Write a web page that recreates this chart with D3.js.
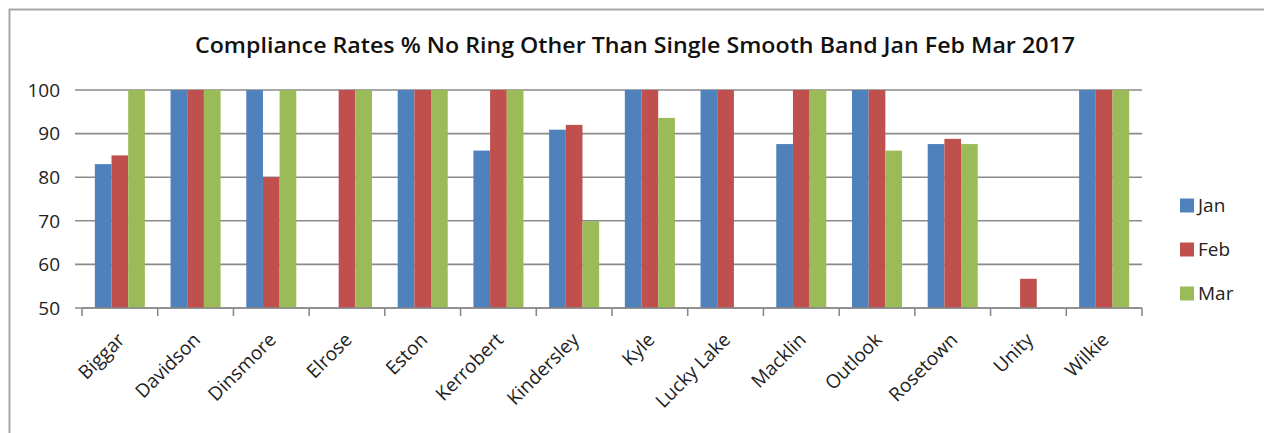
<!DOCTYPE html>
<html><head><meta charset="utf-8">
<script src="https://cdn.jsdelivr.net/npm/d3@7"></script>
<style>body{margin:0;background:#fff}svg{display:block}</style>
</head><body>
<svg id="c" width="1264" height="433"></svg>
<script>
const categories = ["Biggar","Davidson","Dinsmore","Elrose","Eston","Kerrobert","Kindersley","Kyle","Lucky Lake","Macklin","Outlook","Rosetown","Unity","Wilkie"];
const seriesNames = ["Jan","Feb","Mar"];
const jan = [83, 100, 100, null, 100, 86.1, 90.9, 100, 100, 87.6, 100, 87.6, null, 100];
const feb = [85, 100, 80, 100, 100, 100, 92, 100, 100, 100, 100, 88.8, 56.7, 100];
const mar = [100, 100, 100, 100, 100, 100, 69.9, 93.6, null, 100, 86.1, 87.6, null, 100];
const yTicks = [50, 60, 70, 80, 90, 100];
const colors = ["#4F81BD", "#C0504D", "#9BBB59"];
const title = "Compliance Rates % No Ring Other Than Single Smooth Band Jan Feb Mar 2017";

const series = [jan, feb, mar];
const svg = d3.select("#c");
const font = "'Open Sans', 'Noto Sans', sans-serif";
const txt = "#222";

// outer frame
svg.append("rect").attr("x", 9.5).attr("y", 9.5).attr("width", 1270).attr("height", 440)
  .attr("fill", "none").attr("stroke", "#a6a6a6").attr("stroke-width", 2);

const L = 82, R = 1142, T = 90, B = 308;
const x0 = d3.scaleBand().domain(categories).range([L, R]).paddingInner(0).paddingOuter(0);
const x1 = d3.scaleBand().domain(seriesNames).range([0, x0.bandwidth()]).paddingInner(0).paddingOuter(0.77);
const y = d3.scaleLinear().domain([50, 100]).range([B, T]);

// gridlines
svg.append("g").selectAll("line").data(yTicks).join("line")
  .attr("x1", L - 7).attr("x2", R).attr("y1", d => y(d)).attr("y2", d => y(d))
  .attr("stroke", "#8a8a8a").attr("stroke-width", 1.6);

// y labels
svg.append("g").selectAll("text").data(yTicks).join("text")
  .attr("x", 60).attr("y", d => y(d)).attr("dy", "0.36em")
  .attr("text-anchor", "end").attr("font-family", font).attr("font-size", 19).attr("fill", txt)
  .text(d => d);

// bars
const flat = [];
categories.forEach((c, i) => series.forEach((s, j) => { if (s[i] != null) flat.push({c, k: seriesNames[j], v: s[i], j}); }));
svg.append("g").selectAll("rect").data(flat).join("rect")
  .attr("x", d => x0(d.c) + x1(d.k)).attr("width", x1.bandwidth())
  .attr("y", d => y(d.v)).attr("height", d => y(50) - y(d.v))
  .attr("fill", d => colors[d.j]);

// x axis line & ticks
svg.append("line").attr("x1", L).attr("x2", R).attr("y1", B).attr("y2", B)
  .attr("stroke", "#8a8a8a").attr("stroke-width", 1.6);
const bounds = categories.map(c => x0(c)).concat([R]);
svg.append("g").selectAll("line").data(bounds).join("line")
  .attr("x1", d => d).attr("x2", d => d).attr("y1", B).attr("y2", B + 8)
  .attr("stroke", "#8a8a8a").attr("stroke-width", 1.6);

// x labels
svg.append("g").selectAll("text").data(categories).join("text")
  .attr("transform", c => `translate(${x0(c) + x0.bandwidth() / 2 + 6},${B + 33}) rotate(-45)`)
  .attr("text-anchor", "end")
  .attr("font-family", font).attr("font-size", 19).attr("fill", txt)
  .text(c => c);

// title
svg.append("text").attr("x", 195).attr("y", 53)
  .attr("font-family", font).attr("font-size", 21.5).attr("font-weight", 600).attr("fill", "#111")
  .attr("textLength", 880).attr("lengthAdjust", "spacingAndGlyphs")
  .text(title);

// legend
const lg = svg.append("g").selectAll("g").data(seriesNames).join("g")
  .attr("transform", (d, i) => `translate(1180,${205.5 + i * 44})`);
lg.append("rect").attr("x", 0).attr("y", -7).attr("width", 14).attr("height", 14).attr("fill", (d, i) => colors[i]);
lg.append("text").attr("x", 18).attr("y", 0).attr("dy", "0.36em")
  .attr("font-family", font).attr("font-size", 19).attr("fill", txt).text(d => d);
</script>
</body></html>
